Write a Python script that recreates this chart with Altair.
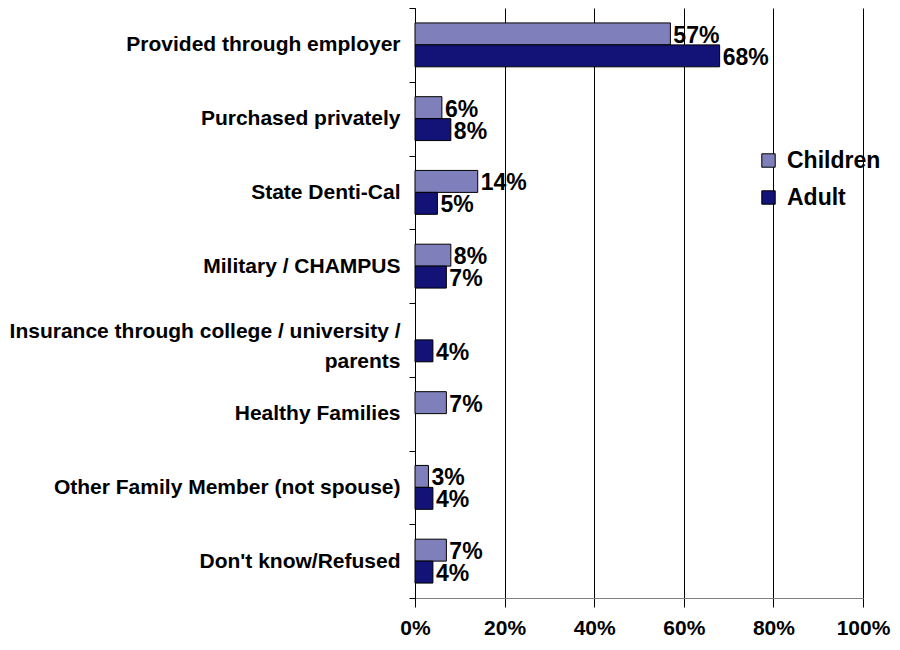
import altair as alt
import pandas as pd

categories = [
    "Provided through employer",
    "Purchased privately",
    "State Denti-Cal",
    "Military / CHAMPUS",
    "Insurance through college / university /|parents",
    "Healthy Families",
    "Other Family Member (not spouse)",
    "Don't know/Refused",
]
children = [57, 6, 14, 8, None, 7, 3, 7]
adult = [68, 8, 5, 7, 4, None, 4, 4]
series = ["Children", "Adult"]
colors = ["#7f80bb", "#121277"]
x_ticks = [0, 20, 40, 60, 80, 100]

rows = []
for c, ch, ad in zip(categories, children, adult):
    if ch is not None:
        rows.append({"cat": c, "series": "Children", "value": ch})
    if ad is not None:
        rows.append({"cat": c, "series": "Adult", "value": ad})
df = pd.DataFrame(rows)
df["label"] = df["value"].astype(int).astype(str) + "%"

FONT = "Liberation Sans"

y_enc = alt.Y(
    "cat:N",
    sort=categories,
    scale=alt.Scale(domain=categories, paddingInner=0, paddingOuter=0),
    axis=alt.Axis(
        title=None,
        labelExpr="split(datum.label, '|')",
        labelFont=FONT,
        labelFontSize=21,
        labelFontWeight="bold",
        labelColor="black",
        labelLineHeight=30,
        labelOffset=alt.condition("indexof(datum.label, '|') >= 0", alt.value(-8), alt.value(0)),
        labelPadding=9,
        labelLimit=420,
        tickBand="extent",
        tickSize=6,
        tickColor="black",
        domainColor="black",
        grid=False,
    ),
)
yoff_enc = alt.YOffset(
    "series:N",
    sort=series,
    scale=alt.Scale(domain=series, paddingOuter=0.68, paddingInner=0),
)

base = alt.Chart(df).encode(y=y_enc, yOffset=yoff_enc)

bars = base.mark_bar(stroke="black", strokeWidth=1).encode(
    x=alt.X(
        "value:Q",
        scale=alt.Scale(domain=[0, 100]),
        axis=alt.Axis(
            title=None,
            values=x_ticks,
            labelExpr="datum.value + '%'",
            labelFlush=False,
            labelFont=FONT,
            labelFontSize=21,
            labelFontWeight="bold",
            labelColor="black",
            labelPadding=10,
            tickSize=9,
            tickColor="black",
            domainColor="#808080",
            gridColor="black",
            gridOpacity=1,
            gridWidth=1,
        ),
    ),
    color=alt.Color(
        "series:N",
        sort=series,
        scale=alt.Scale(domain=series, range=colors),
        legend=alt.Legend(
            title=None,
            orient="none",
            legendX=342,
            legendY=141,
            symbolType="square",
            symbolSize=180,
            symbolStrokeColor="black",
            symbolStrokeWidth=1,
            symbolOpacity=1,
            labelFont=FONT,
            labelFontSize=23,
            labelFontWeight="bold",
            labelColor="black",
            labelOffset=7,
            rowPadding=13,
        ),
    ),
)

text = base.mark_text(
    align="left", baseline="middle", dx=3, dy=2,
    font=FONT, fontSize=23, fontWeight="bold", color="black",
).encode(x=alt.X("value:Q"), text="label:N")

chart = (
    alt.layer(bars, text)
    .properties(
        width=448,
        height=590,
        autosize=alt.AutoSizeParams(type="none"),
        padding={"left": 407, "top": 0, "right": 29, "bottom": 44},
    )
    .configure_view(stroke=None)
)

chart.save("out.html", embed_options={"renderer": "svg", "actions": False})
